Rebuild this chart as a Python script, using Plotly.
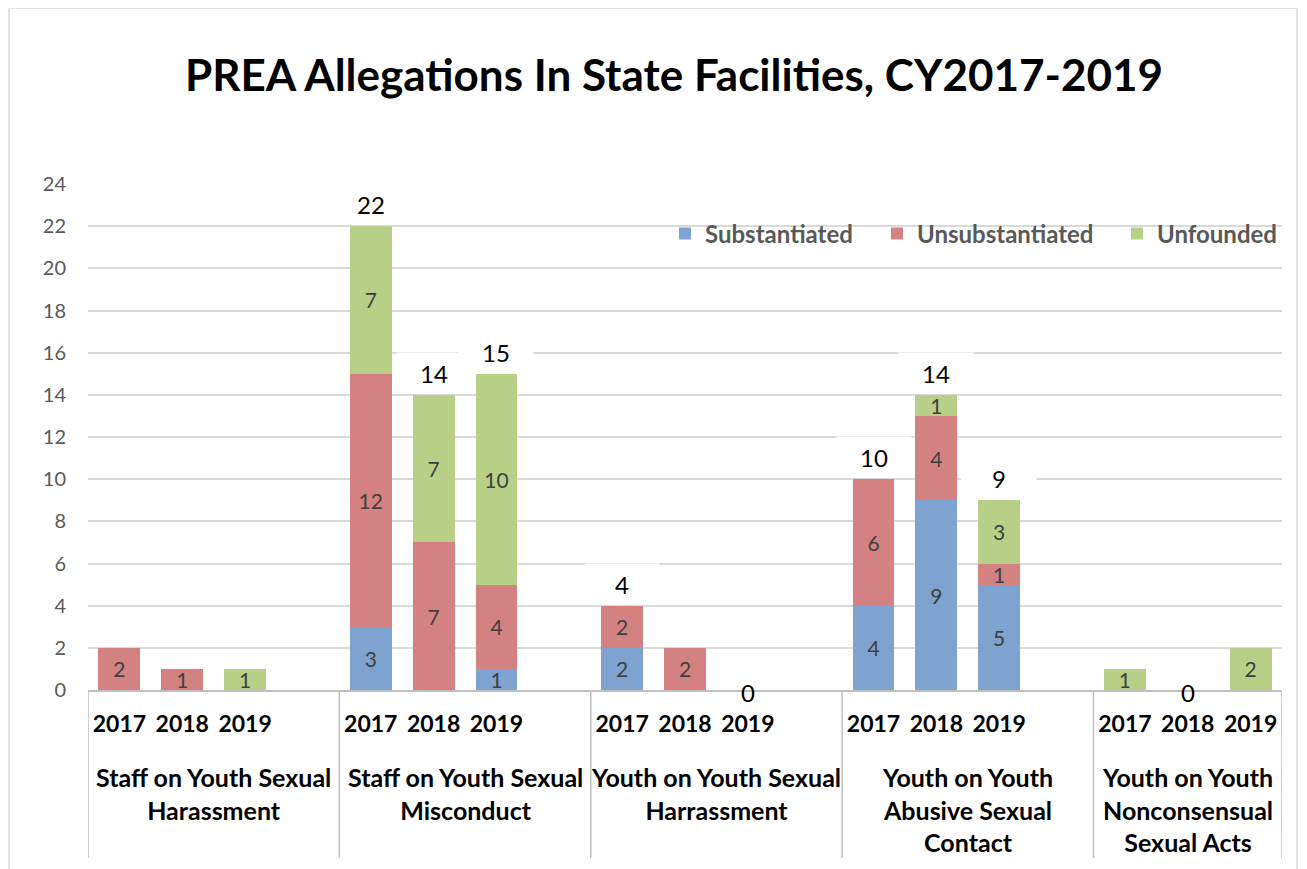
import plotly.graph_objects as go

# ---------------- data ----------------
years = ["2017", "2018", "2019"]
groups = [
    "Staff on Youth Sexual<br>Harassment",
    "Staff on Youth Sexual<br>Misconduct",
    "Youth on Youth Sexual<br>Harrassment",
    "Youth on Youth<br>Abusive Sexual<br>Contact",
    "Youth on Youth<br>Nonconsensual<br>Sexual Acts",
]
series_names = ["Substantiated", "Unsubstantiated", "Unfounded"]
substantiated = [0, 0, 0, 3, 0, 1, 2, 0, 0, 4, 9, 5, 0, 0, 0]
unsubstantiated = [2, 1, 0, 12, 7, 4, 2, 2, 0, 6, 4, 1, 0, 0, 0]
unfounded = [0, 0, 1, 7, 7, 10, 0, 0, 0, 0, 1, 3, 1, 0, 2]
# totals as labelled in the original (some labels were not shown)
total_labels = [None, None, None, 22, 14, 15, 4, None, 0, 10, 14, 9, None, 0, None]

y_ticks = [0, 2, 4, 6, 8, 10, 12, 14, 16, 18, 20, 22, 24]

# ---------------- styling ----------------
colors = ["#7EA3D0", "#D38281", "#B8CF88"]
FONT = "Lato"

# x positions: each group occupies 4 slots (3 years + blank); last group has no blank
xpos = []
for g in range(len(groups)):
    for i in range(len(years)):
        xpos.append(g * 4 + i)
n_slots = xpos[-1] + 1

# page body has an 8px margin; work in window pixels and convert
OFF = 8
WIN_W, WIN_H = 1307, 869
W, H = WIN_W - OFF, WIN_H - OFF
PLOT_L, PLOT_R, PLOT_T, PLOT_B = 88, 1282, 184, 690  # window pixels
ML, MR, MT, MB = PLOT_L - OFF, WIN_W - PLOT_R, PLOT_T - OFF, WIN_H - PLOT_B
plot_h = PLOT_B - PLOT_T
plot_w = PLOT_R - PLOT_L


def py(pix):
    """window pixel row -> paper y"""
    return (PLOT_B - pix) / plot_h


def px(pix):
    """window pixel column -> paper x"""
    return (pix - PLOT_L) / plot_w


fig = go.Figure()
legend_ids = ["legend", "legend2", "legend3"]
for name, vals, col, lg in zip(series_names, [substantiated, unsubstantiated, unfounded], colors, legend_ids):
    fig.add_trace(go.Bar(
        name=name,
        x=xpos,
        y=vals,
        marker=dict(color=col, line=dict(width=0)),
        width=0.667,
        text=[str(v) if v else "" for v in vals],
        textposition="inside",
        insidetextanchor="middle",
        textangle=0,
        textfont=dict(family=FONT, size=21, color="#404040"),
        legend=lg,
        hoverinfo="skip",
    ))

annotations = []
# totals above bars
for x, t, s, u, f in zip(xpos, total_labels, substantiated, unsubstantiated, unfounded):
    if t is None:
        continue
    if t == 0:
        annotations.append(dict(x=x, y=0, xref="x", yref="y", text=str(t), showarrow=False,
                                yanchor="middle", yshift=-2,
                                font=dict(family=FONT, size=24, color="#000000")))
    else:
        annotations.append(dict(x=x, y=s + u + f, xref="x", yref="y", text=str(t), showarrow=False,
                                yanchor="middle", yshift=22, bgcolor="white", width=72, height=38,
                                font=dict(family=FONT, size=24, color="#000000")))

# group separators and group labels
seps = [-0.5]
for g in range(len(groups)):
    seps.append(g * 4 + 3.5 if g < len(groups) - 1 else n_slots - 0.5)
shapes = []
for s in seps:
    shapes.append(dict(type="line", xref="x", yref="paper", x0=s, x1=s, y0=0, y1=py(858),
                       line=dict(color="#BFBFBF", width=1.5)))
for g, label in enumerate(groups):
    cx = (seps[g] + seps[g + 1]) / 2
    annotations.append(dict(x=cx, y=py(760), xref="x", yref="paper", text=label, showarrow=False,
                            yanchor="top", align="center",
                            font=dict(family=FONT, size=25, color="#000000", weight="bold")))

# outer chart border
shapes.append(dict(type="rect", xref="paper", yref="paper", x0=px(9), x1=px(1297), y0=py(885), y1=py(8),
                   line=dict(color="#D9D9D9", width=1.5), fillcolor="rgba(0,0,0,0)", layer="below"))

legend_style = dict(orientation="h", yanchor="middle", xanchor="left", y=py(234),
                    bgcolor="rgba(0,0,0,0)", borderwidth=0,
                    font=dict(family=FONT, size=24, color="#595959", weight="bold"))

fig.update_layout(
    width=W, height=H, autosize=False,
    margin=dict(l=ML, r=MR, t=MT, b=MB),
    paper_bgcolor="white", plot_bgcolor="white",
    barmode="stack",
    title=dict(text="PREA Allegations In State Facilities, CY2017-2019",
               x=(674 - OFF) / W, xanchor="center", xref="container",
               y=1 - (76 - OFF) / H, yanchor="middle", yref="container",
               font=dict(family=FONT, size=44, color="#000000", weight="bold")),
    xaxis=dict(range=[-0.5, n_slots - 0.5], tickvals=xpos, ticktext=years * len(groups),
               showgrid=False, showline=True, linecolor="#BFBFBF", linewidth=1.5,
               ticks="", ticklabelstandoff=13, zeroline=False,
               tickfont=dict(family=FONT, size=23, color="#000000", weight="bold")),
    yaxis=dict(range=[0, 24], tickvals=y_ticks, showgrid=True, gridcolor="#D9D9D9", gridwidth=1.5,
               zeroline=False, showline=False, ticks="", ticklabelstandoff=21,
               tickfont=dict(family=FONT, size=20, color="#595959")),
    legend=dict(legend_style, x=px(665)),
    legend2=dict(legend_style, x=px(877)),
    legend3=dict(legend_style, x=px(1117)),
    uniformtext=dict(minsize=21, mode="show"),
    annotations=annotations,
    shapes=shapes,
    showlegend=True,
)

fig.write_html("out.html")
